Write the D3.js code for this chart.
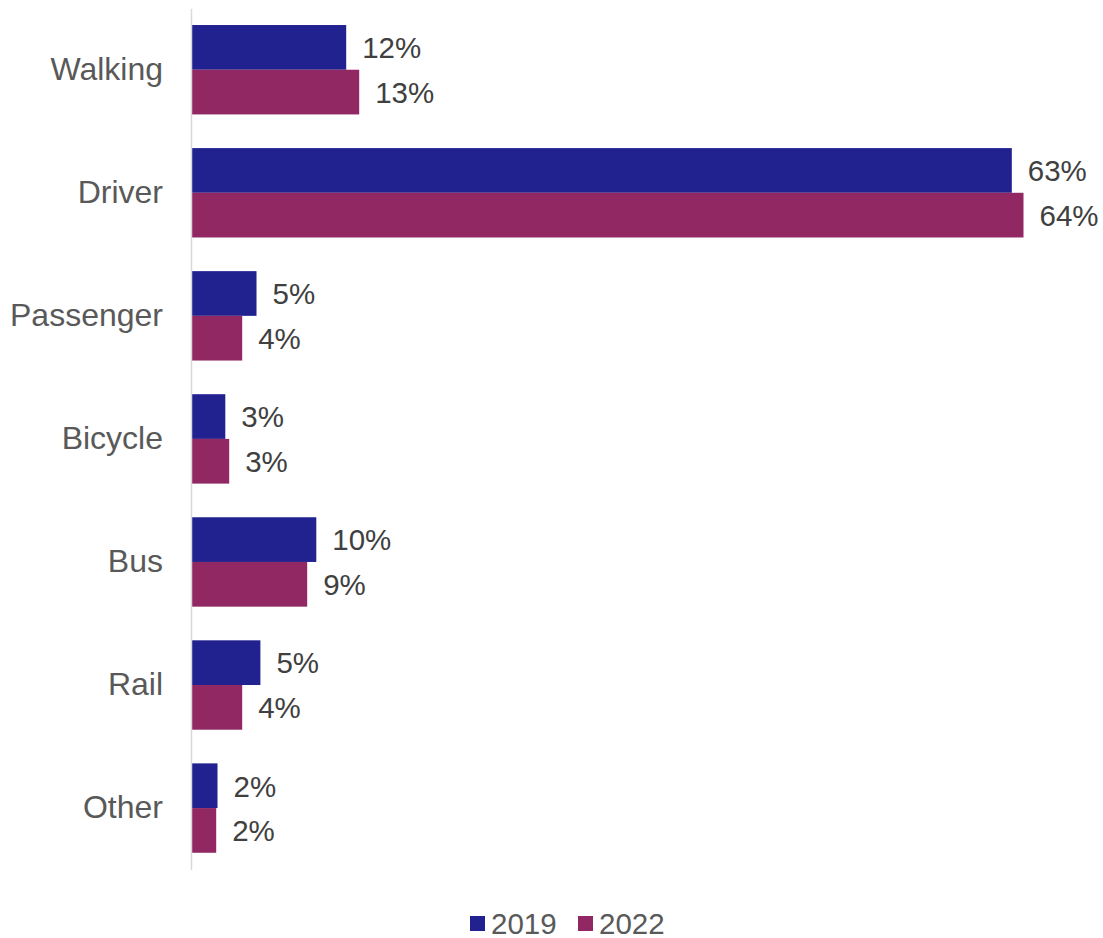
<!DOCTYPE html>
<html>
<head>
<meta charset="utf-8">
<script src="https://cdn.jsdelivr.net/npm/d3@7"></script>
<style>
  html, body { margin: 0; padding: 0; background: #ffffff; }
  svg { display: block; font-family: "Liberation Sans", Arial, sans-serif; }
</style>
</head>
<body>
<svg id="chart" width="1103" height="938"></svg>
<script>
// Share of trips by main mode, 2019 vs 2022 (percent)
const categories = ["Walking", "Driver", "Passenger", "Bicycle", "Bus", "Rail", "Other"];
const seriesNames = ["2019", "2022"];
const values2019 = [11.9, 63.1, 5.0, 2.6, 9.6, 5.3, 2.0];
const values2022 = [12.9, 64.0, 3.9, 2.9, 8.9, 3.9, 1.9];
const seriesColors = ["#212190", "#912763"];

const svg = d3.select("#chart");

const margin = { left: 191.5, top: 8.2, bottom: 869.6 };

const rows = categories.map((c, i) => ({
  category: c,
  values: [values2019[i], values2022[i]]
}));

const y = d3.scaleBand()
  .domain(categories)
  .range([margin.top, margin.bottom])
  .paddingInner(0.2735)
  .paddingOuter(0.13675);

const ySub = d3.scaleBand()
  .domain(seriesNames)
  .range([0, y.bandwidth()]);

const x = d3.scaleLinear()
  .domain([0, 64])
  .range([margin.left, 1023.5]);

// Bars
const groups = svg.append("g")
  .selectAll("g")
  .data(rows)
  .join("g")
  .attr("transform", d => `translate(0,${y(d.category)})`);

groups.selectAll("rect")
  .data(d => d.values.map((v, j) => ({ v, s: seriesNames[j], j })))
  .join("rect")
  .attr("x", x(0))
  .attr("y", d => ySub(d.s))
  .attr("width", d => x(d.v) - x(0))
  .attr("height", ySub.bandwidth())
  .attr("fill", d => seriesColors[d.j]);

// Value labels
groups.selectAll("text.value")
  .data(d => d.values.map((v, j) => ({ v, s: seriesNames[j], j })))
  .join("text")
  .attr("class", "value")
  .attr("x", d => x(d.v) + 16)
  .attr("y", d => ySub(d.s) + ySub.bandwidth() / 2 + 0.5)
  .attr("dy", "0.35em")
  .attr("font-size", 29.5)
  .attr("fill", "#404040")
  .text(d => Math.round(d.v) + "%");

// Category axis
const yAxis = d3.axisLeft(y).tickSize(0).tickPadding(28);
const axisG = svg.append("g")
  .attr("transform", `translate(${margin.left - 0.5},0)`)
  .call(yAxis);
axisG.select(".domain")
  .attr("stroke", "#d9d9d9")
  .attr("stroke-width", 1.5);
axisG.selectAll(".tick text")
  .attr("font-size", 32)
  .attr("font-family", "'Liberation Sans', Arial, sans-serif")
  .attr("fill", "#595959");

// Legend
const legend = svg.append("g").attr("transform", "translate(470,0)");
const legendX = [0, 108];
seriesNames.forEach((name, i) => {
  const g = legend.append("g").attr("transform", `translate(${legendX[i]},916)`);
  g.append("rect")
    .attr("width", 15)
    .attr("height", 15)
    .attr("fill", seriesColors[i]);
  g.append("text")
    .attr("x", 21)
    .attr("y", 7.5)
    .attr("dy", "0.35em")
    .attr("font-size", 29.5)
    .attr("fill", "#595959")
    .text(name);
});
</script>
</body>
</html>
